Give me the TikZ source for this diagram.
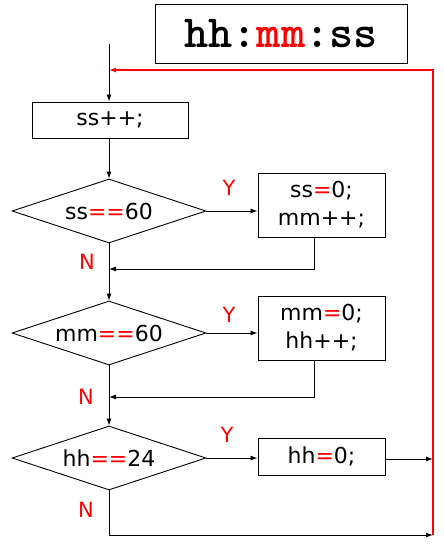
\documentclass[tikz,border=0pt]{standalone}
\usepackage{fontspec}
\setmainfont{DejaVu Sans}
\usetikzlibrary{shapes.geometric,arrows.meta}
\begin{document}
\begin{tikzpicture}[x=1pt,y=-1pt,
 box/.style={draw,line width=1pt,inner sep=0pt,font=\fontsize{22}{28}\selectfont,align=center},
 dec/.style={draw,diamond,aspect=3.03,line width=0.9pt,inner sep=0pt,minimum width=194pt,minimum height=64pt,font=\fontsize{22}{28}\selectfont},
 lbl/.style={text=red,font=\fontsize{21}{24}\selectfont,inner sep=0pt},
 flow/.style={draw,line width=0.9pt,-{Latex[length=7pt,width=5pt]}},
 back/.style={draw=red,line width=1.2pt,-{Latex[length=7pt,width=5pt]}}]
\useasboundingbox (0,0) rectangle (444,549);
\node[box,minimum width=252pt,minimum height=59pt] (title) at (281,33.5) {\ttfamily\bfseries\fontsize{46}{46}\selectfont hh:\textcolor{red}{mm}:ss};
\coordinate (start) at (109,44);
\coordinate (loopin) at (109,70);
\node[box,minimum width=156pt,minimum height=36pt] (inc) at (110,120) {ss++;};
\node[dec] (d1) at (109,211) {ss\textcolor{red}{==}60};
\node[box,minimum width=127pt,minimum height=64pt] (b1) at (321.5,205) {ss\textcolor{red}{=}0;\\mm++;};
\node[dec] (d2) at (109,333) {mm\textcolor{red}{==}60};
\node[box,minimum width=127pt,minimum height=64pt] (b2) at (321.5,328) {mm\textcolor{red}{=}0;\\hh++;};
\node[dec] (d3) at (109,458) {hh\textcolor{red}{==}24};
\node[box,minimum width=127pt,minimum height=37pt] (b3) at (321.5,456.5) {hh\textcolor{red}{=}0;};
\coordinate (m1) at (109,269);
\coordinate (m2) at (109,397);
\coordinate (r3) at (433,459);
\coordinate (bend) at (109,535);
\coordinate (rend) at (433,535);
\coordinate (rtop) at (433,70);
\node[lbl] (y1) at (229,188) {Y};
\node[lbl] (y2) at (229,315) {Y};
\node[lbl] (y3) at (227,435) {Y};
\node[lbl] (n1) at (87,262) {N};
\node[lbl] (n2) at (86,397) {N};
\node[lbl] (n3) at (86,510) {N};
\draw[flow] (start) -- (inc.north -| start);
\draw[flow] (inc.south -| d1.north) -- (d1.north);
\draw[flow] (d1.east) -- (d1.east -| b1.west);
\draw[flow] ([xshift=-7pt]b1.south) |- (m1);
\draw[flow] (d1.south) -- (d2.north);
\draw[flow] (d2.east) -- (d2.east -| b2.west);
\draw[flow] ([xshift=-7pt]b2.south) |- (m2);
\draw[flow] (d2.south) -- (d3.north);
\draw[flow] (d3.east) -- (d3.east -| b3.west);
\draw[flow] (b3.east |- r3) -- (r3);
\draw[flow] (d3.south) -- (bend) -- (rend);
\draw[back] (rend) -- (rtop) -- (loopin);
\end{tikzpicture}
\end{document}
